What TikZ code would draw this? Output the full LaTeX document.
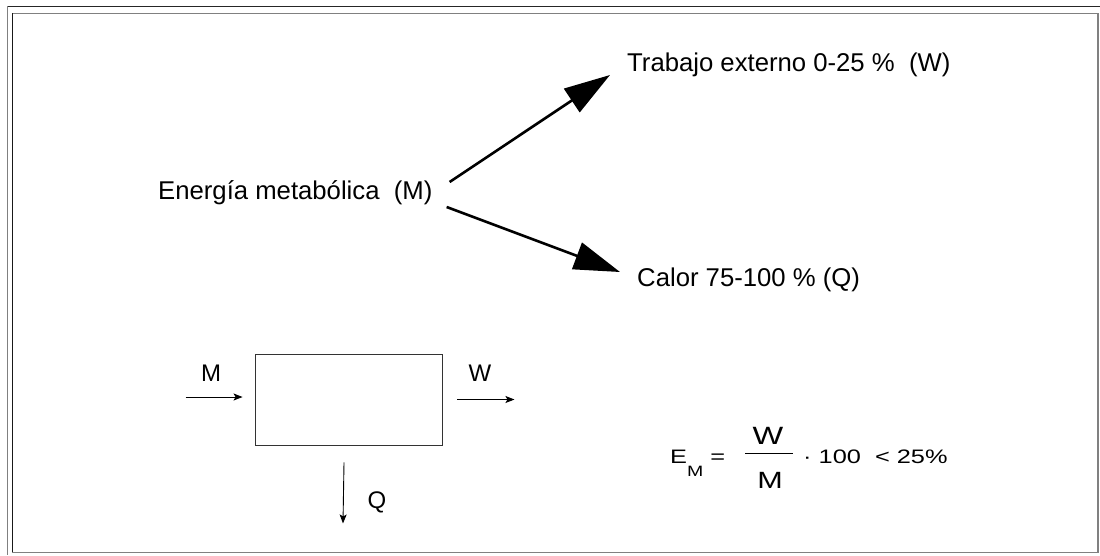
\documentclass[tikz,border=0pt]{standalone}
\usepackage{fontspec}
\setmainfont{Liberation Sans}
\newfontfamily\widefont[FakeStretch=1.3]{Liberation Sans}
\usetikzlibrary{arrows.meta}

\begin{document}
\begin{tikzpicture}[x=1pt, y=-1pt, line cap=butt,
	label/.style={inner sep=0, anchor=base west, font=\fontsize{25.7}{30}\selectfont},
	flow/.style={line width=2.6pt, -{Triangle[length=46pt, width=28pt]}},
	small/.style={line width=0.9pt, -{Stealth[length=9pt, width=7pt, inset=2pt]}},
	letter/.style={inner sep=0, font=\fontsize{24}{28}\selectfont}]
	\useasboundingbox (0,0) rectangle (1100,555);

	% Frame
	\begin{scope}[line width=1.6pt]
		\draw [black!85] (7,6.5) -- (1100,6.5);
		\draw [black!50] (7.5,6) -- (7.5,555);
		\draw [black!50] (12,13.5) -- (1098,13.5) -- (1098,552.5) -- (12,552.5);
		\draw [black!90] (12.5,13) -- (12.5,552);
	\end{scope}

	% Energy split
	\node (energia) [label] at (158,199) {Energía metabólica\ \ (M)};
	\node (trabajo) [label] at (627,71) {Trabajo externo 0-25 \%\ \ (W)};
	\node (calor)   [label] at (637,286) {Calor 75-100 \% (Q)};

	\draw [flow] ([shift={(17,-17)}]energia.base east)
	          -- ([shift={(-17,4)}]trabajo.base west);
	\draw [flow] ([shift={(14,8)}]energia.base east)
	          -- ([shift={(-17,-14)}]calor.base west);

	% Balance box
	\node (sys) [draw=black!80, line width=0.9pt,
	             minimum width=187, minimum height=91, inner sep=0]
	      at (348.5,399.5) {};

	\draw [small] ([shift={(-69,-2.5)}]sys.west) -- ([shift={(-12,-2.5)}]sys.west);
	\draw [small] ([shift={(15,0)}]sys.east) -- ([shift={(72,0)}]sys.east);
	\draw [small] ([shift={(-4.5,17)}]sys.south) -- ([shift={(-5.5,78)}]sys.south);

	\foreach \x/\y/\lab in {211/373/M, 480/373/W, 377/502/Q}{
		\node (in\lab) [letter] at (\x,\y) {\lab};
	}

	% Efficiency
	\node (eff) [inner sep=0, anchor=base west] at (670,463)
	      {\widefont\fontsize{19.5}{22}\selectfont
	       E\raisebox{-13pt}{\fontsize{15}{16}\selectfont M}\ =};
	\coordinate (barl) at (745,453);
	\coordinate (barr) at (793,453);
	\draw [line width=0.9pt] (barl) -- (barr);
	\node (num) [letter, font=\widefont\fontsize{25}{28}\selectfont] at (768,436) {W};
	\node (den) [letter, font=\widefont\fontsize{23.5}{26}\selectfont] at (770,480) {M};
	\node (rest) [inner sep=0, anchor=base west] at (803,463)
	      {\widefont\fontsize{19.5}{22}\selectfont ·\ 100\ \ <\ 25\%};
\end{tikzpicture}
\end{document}
